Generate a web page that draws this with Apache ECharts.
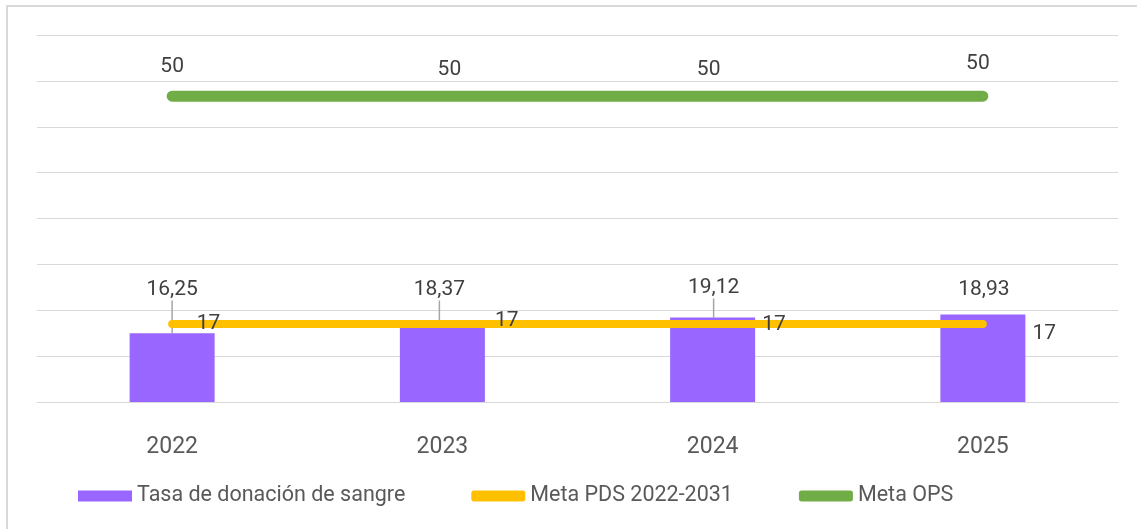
<!DOCTYPE html>
<html>
<head>
<meta charset="utf-8">
<script src="https://cdn.jsdelivr.net/npm/echarts@6/dist/echarts.min.js"></script>
<style>
  html, body { margin: 0; padding: 0; background: #fff; }
  #chart { width: 1137px; height: 529px; }
</style>
</head>
<body>
<div id="chart"></div>
<script>
// categorías y valores
const years = ['2022', '2023', '2024', '2025']
const tasaValues = [15.0, 16.2, 18.4, 19.1]
const tasaLabels = ['16,25', '18,37', '19,12', '18,93']
const metaPds = [17, 17, 17, 17]
const metaOps = [50, 50, 50, 50]

// ajustes manuales de las etiquetas (como en el original)
const tasaLabelDx = [0, -3, 1, 1]
const tasaLabelY = [290, 290, 288, 290]
const pdsOffsets = [[19, 0], [47, -3], [44, 1], [44, 10]]
const opsOffsets = [[0, 0], [7, 3], [-4, 3], [-5, -3]]

const chart = echarts.init(document.getElementById('chart'))
const font = 'Roboto, "Noto Sans", sans-serif'

const option = {
  animation: false,
  textStyle: { fontFamily: font },
  graphic: [
    {
      type: 'rect',
      shape: { x: 7, y: 6, width: 1200, height: 600 },
      style: { fill: 'none', stroke: '#d9d9d9', lineWidth: 2 },
      silent: true
    }
  ],
  grid: { left: 37, right: 19, top: 35, bottom: 127 },
  legend: {
    left: 73,
    top: 480,
    itemWidth: 54,
    itemHeight: 11,
    itemGap: 66,
    textStyle: { color: '#595959', fontSize: 21.5, fontFamily: font },
    data: [
      { name: 'Tasa de donación de sangre', icon: 'rect' },
      { name: 'Meta PDS 2022-2031', icon: 'roundRect' },
      { name: 'Meta OPS', icon: 'roundRect' }
    ]
  },
  xAxis: {
    type: 'category',
    data: years,
    axisTick: { show: false },
    axisLine: { lineStyle: { color: '#d9d9d9', width: 1 } },
    axisLabel: { color: '#595959', fontSize: 23, margin: 34, fontFamily: font }
  },
  yAxis: [
    {
      type: 'value',
      min: 0,
      max: 80,
      interval: 10,
      axisLabel: { show: false },
      axisLine: { show: false },
      axisTick: { show: false },
      splitLine: { lineStyle: { color: '#d9d9d9', width: 1 } }
    },
    {
      type: 'value',
      min: 0,
      max: 60,
      show: false,
      splitLine: { show: false }
    }
  ],
  series: [
    {
      name: 'Tasa de donación de sangre',
      type: 'bar',
      barWidth: 85,
      data: tasaValues.map((v, i) => ({
        value: v,
        labelLine: { show: i < 3 }
      })),
      itemStyle: { color: '#9966ff' },
      label: {
        show: true,
        position: 'top',
        color: '#404040',
        fontSize: 21,
        fontFamily: font,
        formatter: (p) => tasaLabels[p.dataIndex]
      },
      labelLine: {
        show: true,
        lineStyle: { color: '#a6a6a6', width: 1.5 }
      },
      labelLayout: (p) => ({
        x: p.rect.x + p.rect.width / 2 + tasaLabelDx[p.dataIndex],
        y: tasaLabelY[p.dataIndex],
        align: 'center',
        verticalAlign: 'middle'
      }),
      z: 1
    },
    {
      name: 'Meta PDS 2022-2031',
      type: 'line',
      data: metaPds.map((v, i) => ({
        value: v,
        label: { offset: pdsOffsets[i] }
      })),
      symbol: 'circle',
      symbolSize: 1,
      showSymbol: true,
      itemStyle: { color: '#ffc000' },
      lineStyle: { color: '#ffc000', width: 8, cap: 'round' },
      label: {
        show: true,
        position: 'right',
        distance: 5,
        color: '#404040',
        fontSize: 21,
        fontFamily: font
      },
      z: 3
    },
    {
      name: 'Meta OPS',
      type: 'line',
      yAxisIndex: 1,
      data: metaOps.map((v, i) => ({
        value: v,
        label: { offset: opsOffsets[i] }
      })),
      symbol: 'circle',
      symbolSize: 1,
      showSymbol: true,
      itemStyle: { color: '#70ad47' },
      lineStyle: { color: '#70ad47', width: 11, cap: 'round' },
      label: {
        show: true,
        position: 'top',
        distance: 18,
        color: '#404040',
        fontSize: 21,
        fontFamily: font
      },
      z: 3
    }
  ]
}

chart.setOption(option)
</script>
</body>
</html>
